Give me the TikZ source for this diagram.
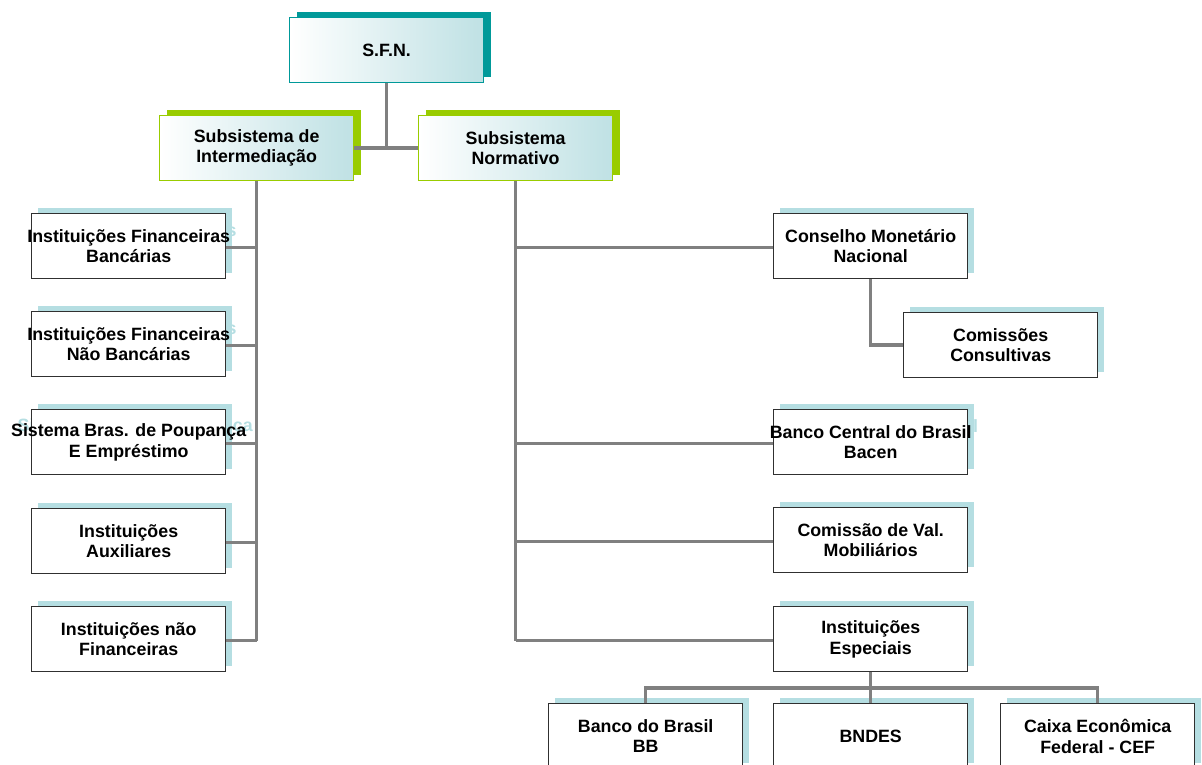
\documentclass[tikz,border=0pt]{standalone}
\usepackage{fontspec}
\setmainfont{Liberation Sans}
\definecolor{shadowc}{HTML}{B5DEE2}
\definecolor{tealc}{HTML}{009999}
\definecolor{greenc}{HTML}{99CC00}
\definecolor{gradc}{HTML}{BFE1E4}
\definecolor{connc}{HTML}{808080}
\definecolor{borderc}{HTML}{303030}
\tikzset{
  base/.style={minimum width=194pt, minimum height=65pt, inner sep=0pt, anchor=north west,
    align=center, font=\fontsize{17.8}{20.5}\selectfont\bfseries},
  box/.style={base, draw=borderc, line width=1.4pt, fill=white},
  shad/.style={base, fill=shadowc},
  topbox/.style={base, line width=1.2pt, left color=white, right color=gradc},
  conn/.style={draw=connc, line width=3.5pt},
}
\newcommand\cl[1]{\makebox[0pt][c]{#1}}
% box with plain shadow
\newcommand\obox[4]{%
  \node[shad] at (#2+7,#3-5) {};
  \node[box] (#1) at (#2,#3) {#4};
}
% box whose shadow carries a ghost copy of the text
\newcommand\gbox[4]{%
  \node[shad, text=shadowc] at (#2+7,#3-5) {#4};
  \node[box] (#1) at (#2,#3) {#4};
}
\begin{document}
\begin{tikzpicture}[x=1pt,y=-1pt]
\useasboundingbox (0,0) rectangle (1202,765);
% top boxes
\fill[tealc] (297,12) rectangle ++(194,65);
\node[topbox, draw=tealc] (sfn) at (289,17) {S.F.N.};
\fill[greenc] (167,110) rectangle ++(194,65);
\node[topbox, draw=greenc] (inter) at (159,115) {Subsistema de\\Intermediação};
\fill[greenc] (426,110) rectangle ++(194,65);
\node[topbox, draw=greenc] (norm) at (418,115) {Subsistema\\Normativo};
% left column
\gbox{l1}{31}{213}{\cl{Instituições Financeiras}\\\cl{Bancárias}}
\gbox{l2}{31}{311}{\cl{Instituições Financeiras}\\\cl{Não Bancárias}}
\gbox{l3}{31}{409}{\cl{Sistema Bras. de Poupança}\\\cl{E Empréstimo}}
\obox{l4}{31}{508}{Instituições\\Auxiliares}
\obox{l5}{31}{606}{Instituições não\\Financeiras}
% right column
\obox{cmn}{773}{213}{Conselho Monetário\\Nacional}
\obox{cc}{903}{312}{Comissões\\Consultivas}
\gbox{bc}{773}{409}{\cl{Banco Central do Brasil}\\\cl{Bacen}}
\obox{cvm}{773}{507}{Comissão de Val.\\Mobiliários}
\obox{ie}{773}{606}{Instituições\\Especiais}
\obox{bb}{548}{703}{Banco do Brasil\\BB}
\obox{bn}{773}{703}{BNDES}
\obox{cef}{1000}{703}{Caixa Econômica\\Federal - CEF}
\coordinate (bar) at (870.5,688);
% connectors
\draw[conn] (sfn.south) -- (sfn.south |- inter.east);
\draw[conn] (inter.east) -- (norm.west);
\draw[conn] (inter.south) -- ([yshift=-1.5pt]inter.south |- l5.east);
\foreach \n in {l1,l2,l3,l4,l5}
  \draw[conn] ([yshift=-1.5pt]\n.east) -- ([yshift=-1.5pt]\n.east -| inter.south);
\draw[conn] (norm.south) -- ([yshift=-1.5pt]norm.south |- ie.west);
\foreach \n in {cmn,bc,cvm,ie}
  \draw[conn] ([yshift=-1.5pt]\n.west) -- ([yshift=-1.5pt]\n.west -| norm.south);
\draw[conn] (cmn.south) |- (cc.west);
\draw[conn] (ie.south) -- (bn.north);
\draw[conn] (bb.north) -- (bb.north |- bar) -- (cef.north |- bar) -- (cef.north);
\end{tikzpicture}
\end{document}
